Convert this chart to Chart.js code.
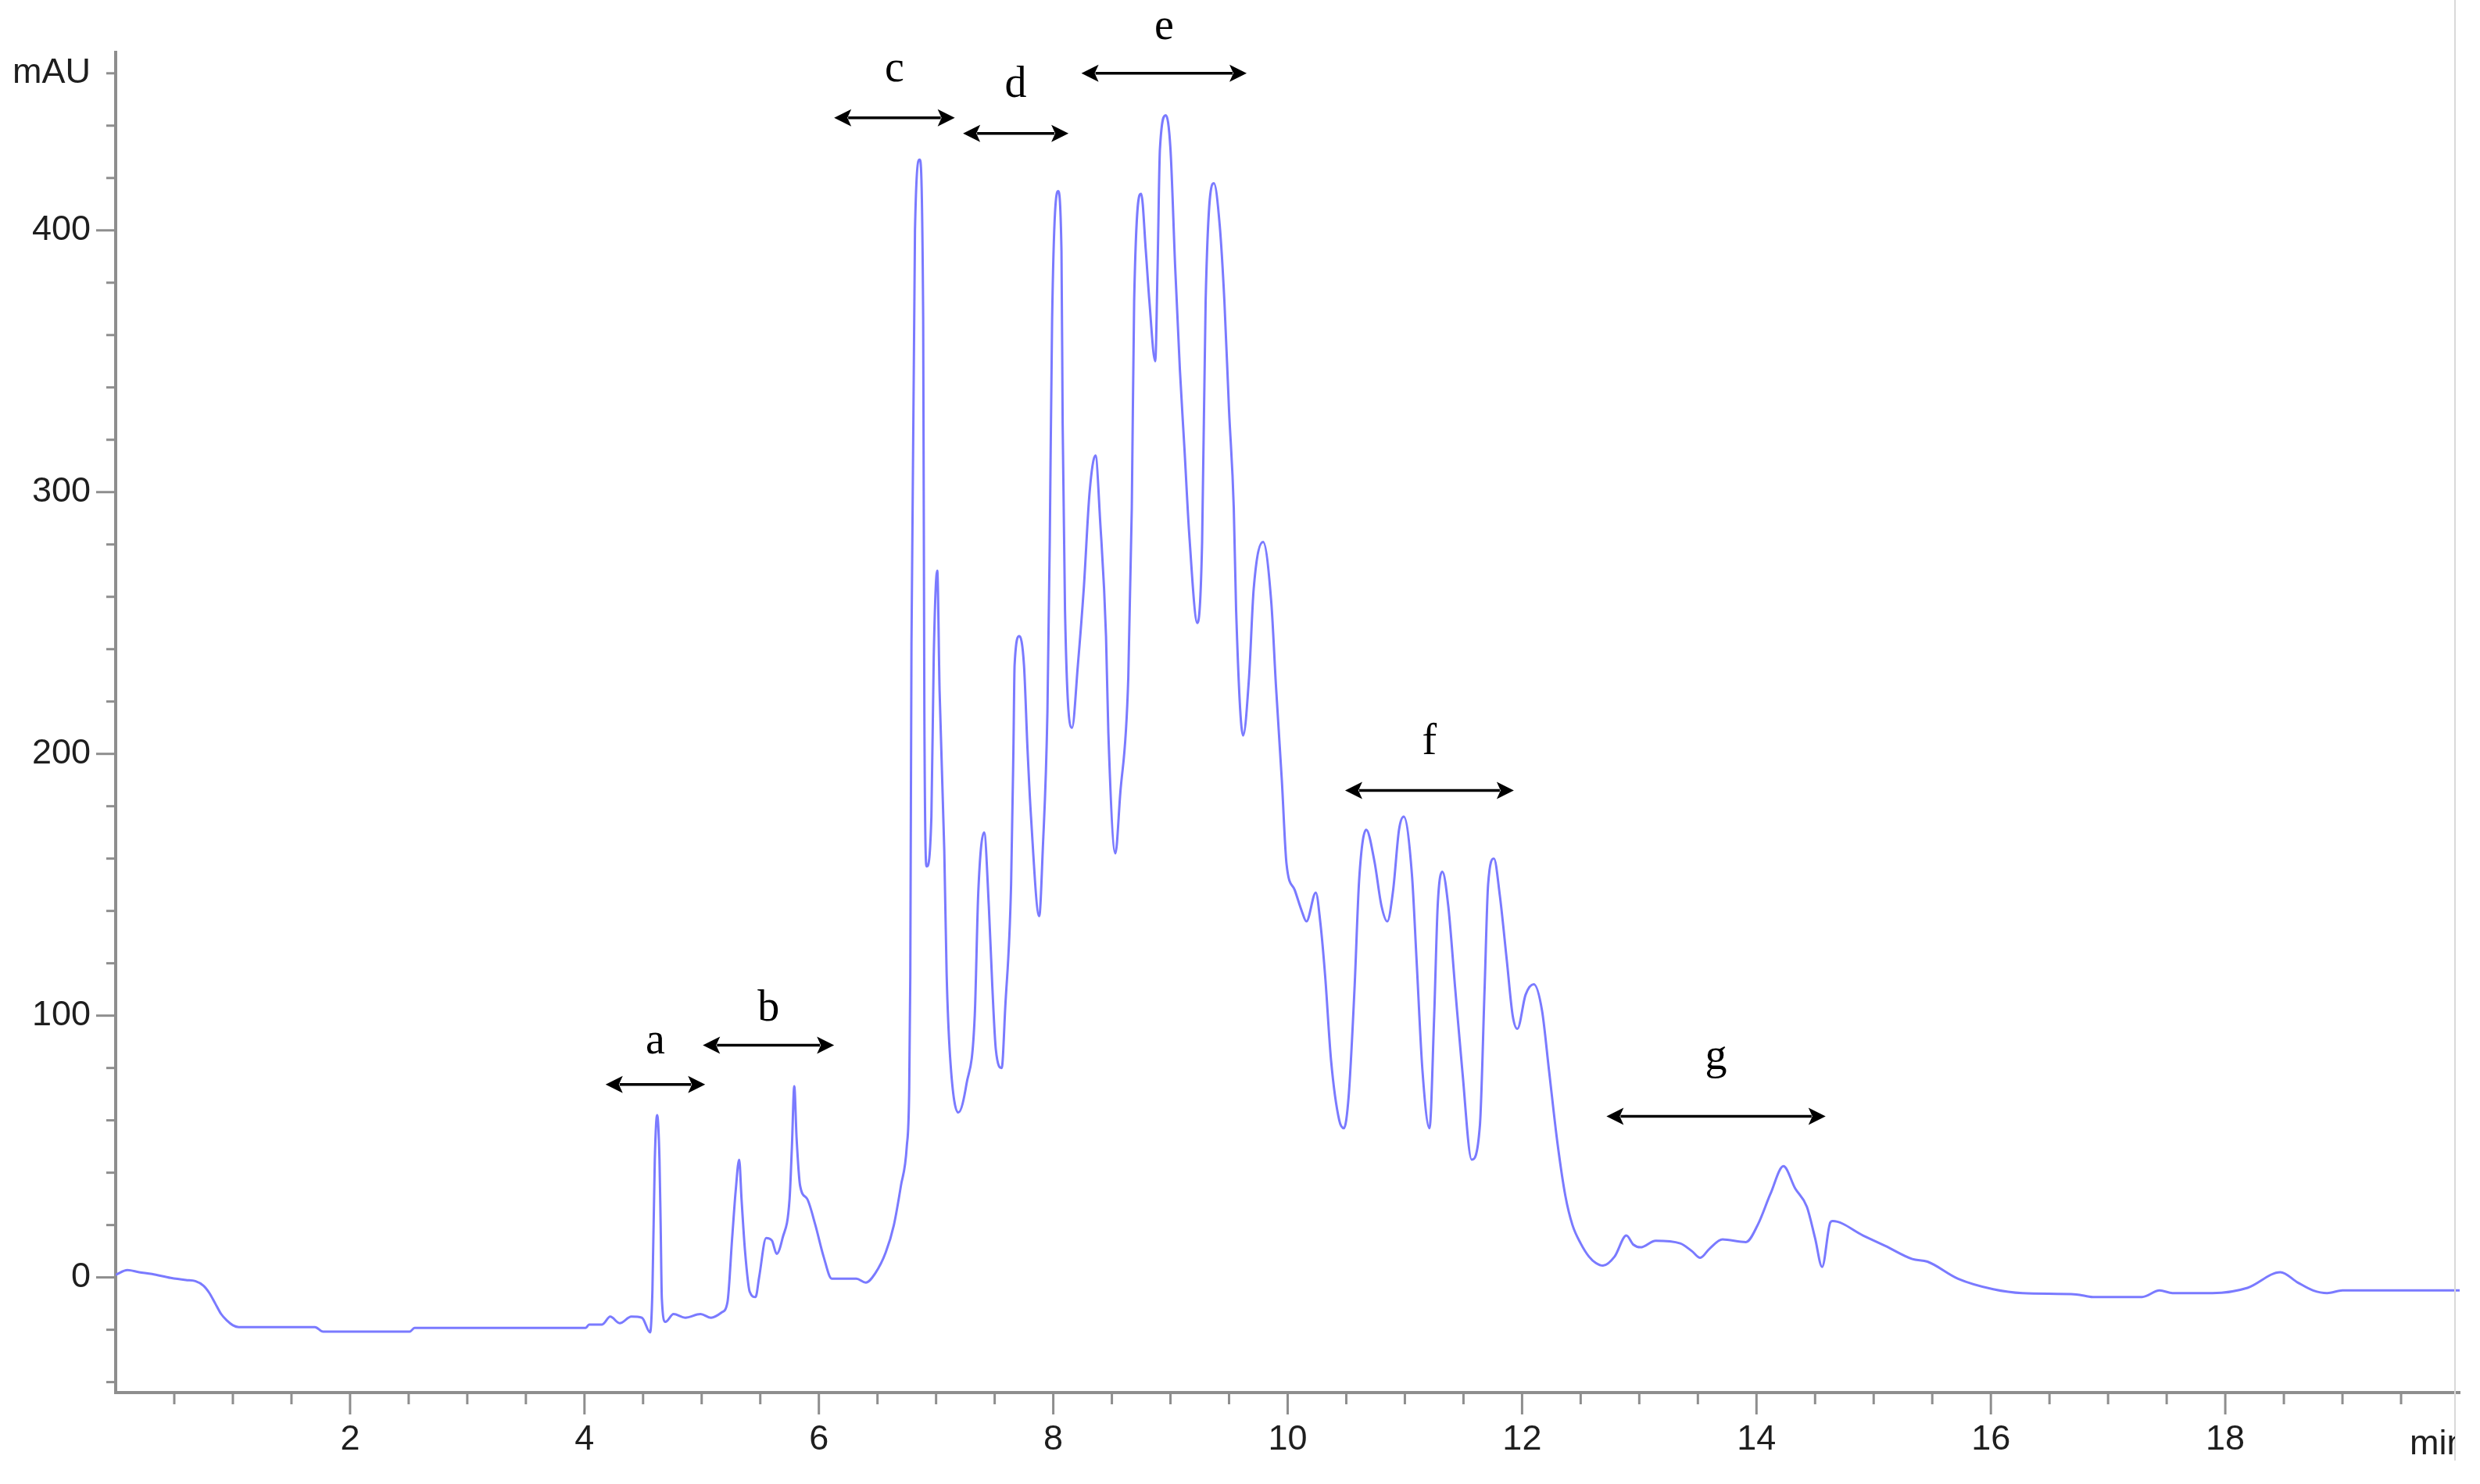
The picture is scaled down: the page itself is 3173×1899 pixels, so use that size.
<!DOCTYPE html>
<html>
<head>
<meta charset="utf-8">
<script src="https://cdn.jsdelivr.net/npm/chart.js@4"></script>
<style>
  html, body { margin: 0; padding: 0; background: #fff; }
  #wrap { width: 3173px; height: 1899px; }
</style>
</head>
<body>
<div id="wrap"><canvas id="hplcChart"></canvas></div>
<script>
// ------- chromatogram data (min / mAU) -------
const times = [
  0.00, 0.10, 0.20, 0.31, 0.47, 0.60, 0.68, 0.75, 0.80, 0.85, 0.90, 0.95, 1.00, 1.05,
  1.70, 1.77, 2.51, 2.55, 4.01, 4.04, 4.15, 4.22, 4.30, 4.40, 4.49, 4.56, 4.58, 4.60,
  4.62, 4.64, 4.65, 4.66, 4.69, 4.76, 4.86, 4.99, 5.08, 5.17, 5.22, 5.26, 5.29, 5.32,
  5.34, 5.37, 5.41, 5.46, 5.49, 5.55, 5.60, 5.64, 5.69, 5.75, 5.77, 5.79, 5.81, 5.84,
  5.90, 5.97, 6.04, 6.11, 6.32, 6.40, 6.48, 6.57, 6.64, 6.70, 6.75, 6.77, 6.78, 6.79,
  6.82, 6.86, 6.89, 6.90, 6.92, 6.96, 6.98, 7.01, 7.03, 7.07, 7.09, 7.12, 7.19, 7.26,
  7.33, 7.36, 7.41, 7.45, 7.48, 7.51, 7.56, 7.59, 7.64, 7.66, 7.67, 7.71, 7.75, 7.78,
  7.81, 7.88, 7.91, 7.95, 7.97, 7.99, 8.04, 8.07, 8.08, 8.10, 8.16, 8.21, 8.26, 8.31,
  8.36, 8.40, 8.45, 8.47, 8.53, 8.57, 8.64, 8.67, 8.69, 8.75, 8.79, 8.82, 8.87, 8.89,
  8.91, 8.96, 9.00, 9.04, 9.08, 9.12, 9.16, 9.23, 9.27, 9.30, 9.37, 9.42, 9.46, 9.50,
  9.54, 9.56, 9.62, 9.67, 9.71, 9.79, 9.86, 9.90, 9.95, 9.99, 10.06, 10.12, 10.16, 10.24,
  10.28, 10.32, 10.37, 10.44, 10.48, 10.52, 10.57, 10.61, 10.67, 10.74, 10.80, 10.85, 10.90, 10.95,
  10.99, 11.06, 11.10, 11.15, 11.21, 11.25, 11.28, 11.32, 11.37, 11.43, 11.49, 11.57, 11.64, 11.68,
  11.71, 11.76, 11.81, 11.87, 11.92, 11.96, 12.03, 12.10, 12.17, 12.23, 12.30, 12.37, 12.43, 12.50,
  12.57, 12.63, 12.69, 12.79, 12.89, 12.95, 13.01, 13.14, 13.35, 13.45, 13.52, 13.60, 13.71, 13.91,
  14.01, 14.12, 14.23, 14.33, 14.43, 14.50, 14.56, 14.63, 14.65, 14.91, 15.10, 15.33, 15.46, 15.72,
  16.02, 16.27, 16.73, 16.87, 17.29, 17.44, 17.55, 17.89, 18.19, 18.47, 18.62, 18.75, 18.87, 19.00,
  19.50, 20.00
];
const mAU = [
  1, 2.8, 2, 1.3, -0.2, -1, -1.4, -3.2, -6, -10, -14, -16.5, -18.3, -19,
  -19, -20.7, -20.7, -19.3, -19.3, -18, -18, -15, -17.5, -15, -15.4, -21, -4.5, 45,
  62, 45, 20, -8, -17, -14, -15.4, -14, -15.4, -13.4, -9.5, 15, 33, 45,
  30, 10, -5.5, -7.5, 0, 15, 14, 9, 15, 30, 50, 73, 53, 35,
  30, 20, 8, -0.5, -0.5, -2, 1.5, 9.5, 20, 35, 50, 70, 115, 242,
  400, 427, 366, 216, 157, 176, 237, 270, 224, 163, 116, 84, 63, 74,
  100, 147, 170, 142, 111, 87, 80, 103, 150, 202, 234, 245, 234, 202,
  176, 138, 163, 216, 281, 366, 415, 392, 326, 255, 210, 234, 263, 300,
  314, 289, 245, 208, 162, 184, 229, 294, 373, 414, 392, 373, 350, 386,
  431, 444, 431, 386, 347, 316, 284, 250, 281, 373, 418, 402, 373, 331,
  294, 255, 207, 229, 263, 281, 258, 226, 190, 158, 148, 140, 136, 147,
  135, 115, 83, 60, 57, 69, 110, 152, 171, 159, 142, 136, 148, 171,
  176, 154, 121, 79, 57, 100, 142, 155, 142, 110, 79, 45, 58, 110,
  150, 160, 146, 121, 100, 95, 108, 112, 102, 79, 52, 31, 20, 13,
  8, 5.5, 4.5, 8, 16, 12.5, 11.5, 14, 13, 10, 7.5, 11, 14.5, 13.5,
  20, 32, 42.5, 34, 27, 15, 4, 21, 21.5, 16, 12, 7, 6, -0.5,
  -4.5, -6, -6.5, -7.5, -7.5, -5, -6, -6, -4, 2, -2, -5, -6, -5,
  -5, -5
];

// ------- fraction markers (letter, from/to in min, arrow level and letter baseline in mAU) -------
const fractionNames = ['a', 'b', 'c', 'd', 'e', 'f', 'g'];
const fractionStart = [4.18, 5.01, 6.13, 7.23, 8.24, 10.49, 12.72];
const fractionEnd   = [5.03, 6.13, 7.16, 8.13, 9.65, 11.93, 14.59];
const fractionLevel = [73.7, 88.7, 443, 437, 460, 186, 61.5];
const fractionText  = [85.5, 98, 457, 451, 473, 200, 79.5];

// ------- axis range / labels -------
const xMin = 0, xMax = 20, xStep = 0.5;
const yMin = -44, yMax = 468, yStep = 20;
const xUnit = 'min';
const yUnit = 'mAU';

const axisColor = '#8e8e8e';
const textColor = '#1e1e1e';
const tickFont = '"Liberation Sans", Arial, sans-serif';

const pointsData = times.map((t, i) => ({ x: t, y: mAU[i] }));

// tick marks (long major, short minor), "min" unit, the fraction arrows
const extrasPlugin = {
  id: 'extras',
  afterDraw(chart) {
    const ctx = chart.ctx;
    const xs = chart.scales.x, ys = chart.scales.y;
    const area = chart.chartArea;
    const frameX = area.right - 6;
    ctx.save();
    ctx.strokeStyle = axisColor;
    ctx.lineWidth = 3;
    ys.ticks.forEach(t => {
      const py = ys.getPixelForValue(t.value);
      const len = (Math.round(t.value) % 100 === 0) ? 25 : 12;
      ctx.beginPath();
      ctx.moveTo(area.left, py);
      ctx.lineTo(area.left - len, py);
      ctx.stroke();
    });
    xs.ticks.forEach(t => {
      if (t.value <= xMin || t.value >= xMax) return;
      const px = xs.getPixelForValue(t.value);
      const len = (Math.abs(t.value % 2) < 1e-6) ? 28 : 15;
      ctx.beginPath();
      ctx.moveTo(px, area.bottom);
      ctx.lineTo(px, area.bottom + len);
      ctx.stroke();
    });
    // faint right frame
    ctx.strokeStyle = '#d9d9d9';
    ctx.lineWidth = 2;
    ctx.beginPath();
    ctx.moveTo(frameX, 0);
    ctx.lineTo(frameX, chart.height - 30);
    ctx.stroke();

    // x unit, cut by the frame like the original
    ctx.save();
    ctx.beginPath();
    ctx.rect(0, 0, frameX, chart.height);
    ctx.clip();
    ctx.fillStyle = textColor;
    ctx.font = '45px ' + tickFont;
    ctx.textAlign = 'left';
    ctx.textBaseline = 'alphabetic';
    ctx.fillText(xUnit, frameX - 58, area.bottom + 79);
    ctx.restore();

    // fraction arrows
    ctx.strokeStyle = '#000';
    ctx.fillStyle = '#000';
    ctx.lineWidth = 3.5;
    const head = 22, half = 11;
    fractionNames.forEach((name, i) => {
      const x1 = xs.getPixelForValue(fractionStart[i]);
      const x2 = xs.getPixelForValue(fractionEnd[i]);
      const py = ys.getPixelForValue(fractionLevel[i]);
      ctx.beginPath();
      ctx.moveTo(x1 + head - 4, py);
      ctx.lineTo(x2 - head + 4, py);
      ctx.stroke();
      ctx.beginPath();
      ctx.moveTo(x1, py);
      ctx.lineTo(x1 + head, py - half);
      ctx.lineTo(x1 + head - 5, py);
      ctx.lineTo(x1 + head, py + half);
      ctx.closePath();
      ctx.fill();
      ctx.beginPath();
      ctx.moveTo(x2, py);
      ctx.lineTo(x2 - head, py - half);
      ctx.lineTo(x2 - head + 5, py);
      ctx.lineTo(x2 - head, py + half);
      ctx.closePath();
      ctx.fill();
      ctx.font = '56px "Liberation Serif", "Times New Roman", serif';
      ctx.textAlign = 'center';
      ctx.textBaseline = 'alphabetic';
      ctx.fillText(name, (x1 + x2) / 2, ys.getPixelForValue(fractionText[i]));
    });
    ctx.restore();
  }
};

const config = {
  type: 'line',
  data: {
    datasets: [
      {
        label: 'UV',
        data: pointsData,
        borderColor: 'rgb(122, 122, 255)',
        borderWidth: 3,
        pointRadius: 0,
        cubicInterpolationMode: 'monotone',
        fill: false
      }
    ]
  },
  options: {
    responsive: false,
    animation: false,
    devicePixelRatio: 1,
    layout: { padding: { top: 67, right: 25, left: 0, bottom: 0 } },
    plugins: {
      legend: { display: false },
      tooltip: { enabled: false }
    },
    scales: {
      x: {
        type: 'linear',
        min: xMin,
        max: xMax,
        grid: { display: false },
        border: { display: true, color: axisColor, width: 4 },
        ticks: {
          stepSize: xStep,
          autoSkip: false,
          maxRotation: 0,
          includeBounds: false,
          padding: 26,
          color: textColor,
          font: { size: 45, family: tickFont },
          callback: (v) => (v > xMin && v < xMax && Math.abs(v % 2) < 1e-6) ? String(v) : ''
        },
        afterFit: (scale) => { scale.height = 117; }
      },
      y: {
        type: 'linear',
        min: yMin,
        max: yMax,
        grid: { display: false },
        border: { display: true, color: axisColor, width: 4 },
        ticks: {
          stepSize: yStep,
          autoSkip: false,
          includeBounds: false,
          padding: 24,
          color: textColor,
          font: { size: 45, family: tickFont },
          callback: (v) => v === 460 ? yUnit : (v % 100 === 0 ? String(v) : '')
        },
        afterFit: (scale) => { scale.width = 148; }
      }
    }
  },
  plugins: [extrasPlugin]
};

const canvas = document.getElementById('hplcChart');
canvas.width = 3173;
canvas.height = 1899;
const myChart = new Chart(canvas, config);
</script>
</body>
</html>
